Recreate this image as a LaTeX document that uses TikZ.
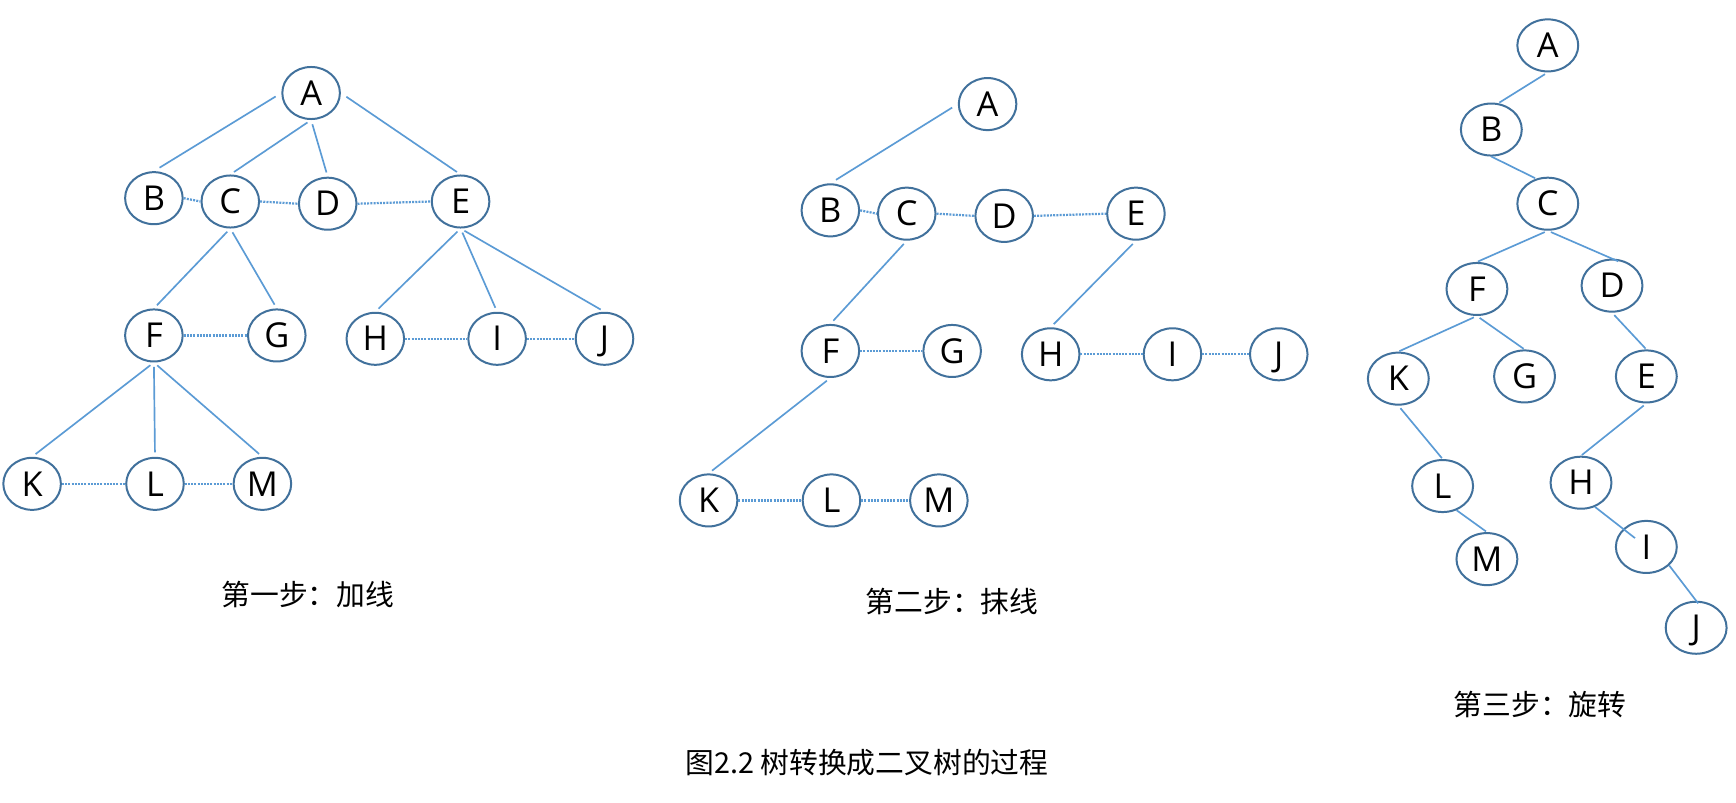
\documentclass[tikz,border=0pt]{standalone}
\usepackage{fontspec}
\setmainfont{Open Sans}
\newfontfamily\cjk{Noto Sans CJK SC}
\usetikzlibrary{shapes.geometric}
\definecolor{nodeline}{HTML}{41719C}
\definecolor{edgeblue}{HTML}{5B9BD5}
\begin{document}
\begin{tikzpicture}[x=1pt,y=-1pt,
 tn/.style={ellipse, draw=nodeline, line width=1.8pt, minimum width=52pt, minimum height=47pt,
   inner sep=0pt, text height=22pt, text depth=0pt, font=\fontsize{31}{31}\selectfont},
 tnr/.style={tn, minimum width=55pt, minimum height=47pt},
 ed/.style={draw=edgeblue, line width=1.5pt, shorten <=4pt, shorten >=4pt},
 edr/.style={draw=edgeblue, line width=1.5pt, shorten <=3pt, shorten >=1pt},
 dt/.style={draw=edgeblue, line width=2pt, dash pattern=on 1.8pt off 1.1pt},
 captext/.style={font=\cjk\fontsize{26}{26}\selectfont, inner sep=0pt}]
\useasboundingbox[fill=white] (0,0) rectangle (1568,725);

% ---------- Step 1 ----------
\node[tn] (a1) at (281,84) {A};
\node[tn] (b1) at (139,179) {B};
\node[tn] (c1) at (208,182) {C};
\node[tn] (d1) at (296,184) {D};
\node[tn] (e1) at (416,182) {E};
\node[tn] (f1) at (139,303) {F};
\node[tn] (g1) at (250,303) {G};
\node[tn] (h1) at (339,306) {H};
\node[tn] (i1) at (449,306) {I};
\node[tn] (j1) at (546,306) {J};
\node[tn] (k1) at (29,437) {K};
\node[tn] (l1) at (140,437) {L};
\node[tn] (m1) at (237,437) {M};
\draw[ed, shorten <=6pt, shorten >=6pt] (a1.west) -- (b1.north);
\draw[ed] (a1.south) -- (c1.north);
\draw[ed] (a1.south) -- (d1.north);
\draw[ed, shorten <=6pt] (a1.east) -- (e1.north);
\draw[ed] (c1.south) -- (f1.north);
\draw[ed] (c1.south) -- (g1.north);
\draw[ed] (e1.south) -- (h1.north);
\draw[ed] (e1.south) -- (i1.north);
\draw[ed] (e1.south) -- (j1.north);
\draw[ed] (f1.south) -- (k1.north);
\draw[ed] (f1.south) -- (l1.north);
\draw[ed] (f1.south) -- (m1.north);
\draw[dt] (b1.east) -- (c1.west);
\draw[dt] (c1.east) -- (d1.west);
\draw[dt] (d1.east) -- (e1.west);
\draw[dt] (f1.east) -- (g1.west);
\draw[dt] (h1.east) -- (i1.west);
\draw[dt] (i1.east) -- (j1.west);
\draw[dt] (k1.east) -- (l1.west);
\draw[dt] (l1.east) -- (m1.west);
\node[captext] (s1) at (278,537) {第一步：加线};

% ---------- Step 2 ----------
\node[tn] (a2) at (892,94) {A};
\node[tn] (b2) at (750,190) {B};
\node[tn] (c2) at (819,193) {C};
\node[tn] (d2) at (907,195) {D};
\node[tn] (e2) at (1026,193) {E};
\node[tn] (f2) at (750,317) {F};
\node[tn] (g2) at (860,317) {G};
\node[tn] (h2) at (949,320) {H};
\node[tn] (i2) at (1059,320) {I};
\node[tn] (j2) at (1155,320) {J};
\node[tn] (k2) at (640,452) {K};
\node[tn] (l2) at (751,452) {L};
\node[tn] (m2) at (848,452) {M};
\draw[ed, shorten <=6pt, shorten >=6pt] (a2.west) -- (b2.north);
\draw[ed] (c2.south) -- (f2.north);
\draw[ed] (e2.south) -- (h2.north);
\draw[ed] (f2.south) -- (k2.north);
\draw[dt] (b2.east) -- (c2.west);
\draw[dt] (c2.east) -- (d2.west);
\draw[dt] (d2.east) -- (e2.west);
\draw[dt] (f2.east) -- (g2.west);
\draw[dt] (h2.east) -- (i2.west);
\draw[dt] (i2.east) -- (j2.west);
\draw[dt] (k2.east) -- (l2.west);
\draw[dt] (l2.east) -- (m2.west);
\node[captext] (s2) at (860,543) {第二步：抹线};

% ---------- Step 3 ----------
\node[tnr] (a3) at (1398,41) {A};
\node[tnr] (b3) at (1347,117) {B};
\node[tnr] (c3) at (1398,184) {C};
\node[tnr] (f3) at (1334,261) {F};
\node[tnr] (d3) at (1456,258) {D};
\node[tnr] (k3) at (1263,342) {K};
\node[tnr] (g3) at (1377,340) {G};
\node[tnr] (e3) at (1487,340) {E};
\node[tnr] (l3) at (1303,439) {L};
\node[tnr] (h3) at (1428,436) {H};
\node[tnr] (m3) at (1343,505) {M};
\node[tnr] (i3) at (1487,494) {I};
\node[tnr] (j3) at (1532,567) {J};
\draw[edr] (a3.south) -- (b3.75);
\draw[edr, shorten <=0pt] (b3.south) -- (c3.115);
\draw[edr] (c3.south) -- (f3.north);
\draw[edr, shorten >=-6pt] (c3.south) -- (d3.north);
\draw[edr] (f3.south) -- (k3.north);
\draw[edr] (f3.south) -- (g3.north);
\draw[edr] (d3.south) -- (e3.north);
\draw[edr] (k3.south) -- (l3.north);
\draw[edr] (e3.south) -- (h3.north);
\draw[edr, shorten <=0pt] (l3.-60) -- (m3.north);
\draw[edr, shorten <=0pt, shorten >=13pt] (h3.-60) -- (i3.center);
\draw[edr, shorten <=0pt, shorten >=-3pt] (i3.-39) -- (j3.north);
\node[captext] (s3) at (1391,636) {第三步：旋转};

% ---------- Caption ----------
\node[captext] (fig) at (783,689) {图2.2 树转换成二叉树的过程};
\end{tikzpicture}
\end{document}
